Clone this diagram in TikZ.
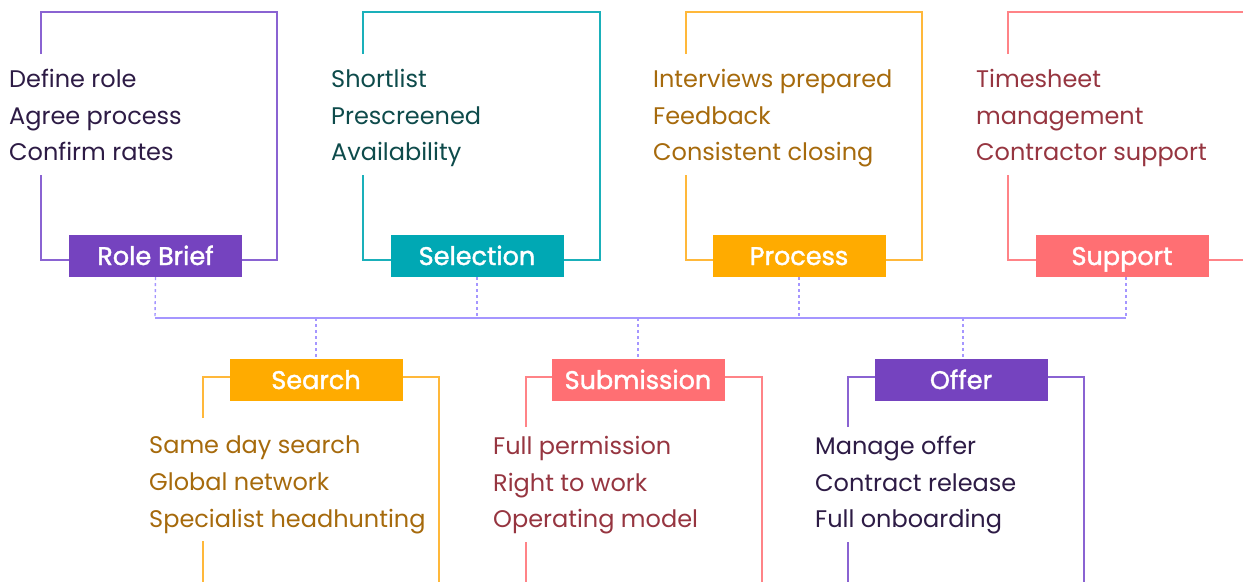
\documentclass[tikz,border=0pt]{standalone}
\usepackage{fontspec}
\setmainfont{Poppins}
\newfontfamily\badgefont[FakeBold=1.6]{Poppins}
\definecolor{pfill}{HTML}{7543BF}
\definecolor{pline}{HTML}{8A63D2}
\definecolor{ptext}{HTML}{2D1B45}
\definecolor{tfill}{HTML}{00A8B4}
\definecolor{tline}{HTML}{1AB0BA}
\definecolor{ttext}{HTML}{0E4B4B}
\definecolor{ofill}{HTML}{FFAB00}
\definecolor{oline}{HTML}{FFB83A}
\definecolor{otext}{HTML}{A66A0C}
\definecolor{cfill}{HTML}{FF6F73}
\definecolor{cline}{HTML}{FF8387}
\definecolor{ctext}{HTML}{963540}
\definecolor{bus}{HTML}{A596FF}
\tikzset{
  badge/.style={fill=#1, text=white, minimum width=173pt, minimum height=42pt, inner sep=0pt, text height=18pt, text depth=0pt, font=\badgefont\fontsize{25.5}{29}\selectfont},
  items/.style={text=#1, anchor=north west, align=left, inner sep=0pt, font=\fontsize{24}{36.7}\selectfont},
  frame/.style={draw=#1, line width=1.4pt},
  conn/.style={draw=bus, line width=1.4pt, dash pattern=on 3pt off 3pt},
  busline/.style={draw=bus, line width=1.4pt},
}
\begin{document}
\begin{tikzpicture}[x=1pt,y=-1pt]
\useasboundingbox (0,0) rectangle (1243,582);
% ---------- top row frames ----------
\draw[frame=pline] (41,54) -- (41,12) -- (277,12) -- (277,260) -- (242,260);
\draw[frame=pline] (41,175) -- (41,260) -- (69,260);
\draw[frame=tline] (363,54) -- (363,12) -- (600,12) -- (600,260) -- (563,260);
\draw[frame=tline] (363,175) -- (363,260) -- (391,260);
\draw[frame=oline] (686,54) -- (686,12) -- (922,12) -- (922,260) -- (885,260);
\draw[frame=oline] (686,175) -- (686,260) -- (713,260);
\draw[frame=cline] (1008,54) -- (1008,12) -- (1243,12);
\draw[frame=cline] (1243,260) -- (1208,260);
\draw[frame=cline] (1008,175) -- (1008,260) -- (1036,260);
% ---------- bottom row frames ----------
\draw[frame=oline] (203,418) -- (203,377) -- (230,377);
\draw[frame=oline] (402,377) -- (439,377) -- (439,582);
\draw[frame=oline] (203,541) -- (203,582);
\draw[frame=cline] (526,427) -- (526,377) -- (552,377);
\draw[frame=cline] (724,377) -- (762,377) -- (762,582);
\draw[frame=cline] (526,542) -- (526,582);
\draw[frame=pline] (848,427) -- (848,377) -- (875,377);
\draw[frame=pline] (1047,377) -- (1084,377) -- (1084,582);
\draw[frame=pline] (848,542) -- (848,582);
% ---------- badges ----------
\node[badge=pfill] (rb) at (155.5,256) {Role Brief};
\node[badge=tfill] (sel) at (477,256) {Selection};
\node[badge=ofill] (pro) at (799,256) {Process};
\node[badge=cfill] (sup) at (1122,256) {Support};
\node[badge=ofill] (sea) at (316,380) {Search};
\node[badge=cfill] (sub) at (638,380) {Submission};
\node[badge=pfill] (off) at (961,380) {Offer};
% ---------- item texts ----------
\node[items=ptext] (rbt) at (9,69) {Define role\\Agree process\\Confirm rates};
\node[items=ttext] (selt) at (331,69) {Shortlist\\Prescreened\\Availability};
\node[items=otext] (prot) at (653,69) {Interviews prepared\\Feedback\\Consistent closing};
\node[items=ctext] (supt) at (976,69) {Timesheet\\management\\Contractor support};
\node[items=otext] (seat) at (149,436) {Same day search\\Global network\\Specialist headhunting};
\node[items=ctext] (subt) at (493,436) {Full permission\\Right to work\\Operating model};
\node[items=ptext] (offt) at (815,436) {Manage offer\\Contract release\\Full onboarding};
% ---------- connectors ----------
\coordinate (b1) at (155,318);
\coordinate (b2) at (477,318);
\coordinate (b3) at (799,318);
\coordinate (b4) at (1126,318);
\coordinate (b5) at (316,318);
\coordinate (b6) at (638,318);
\coordinate (b7) at (963,318);
\draw[busline] (b1) -- (b4);
\draw[conn] (rb.south) -- (b1);
\draw[conn] (sel.south) -- (b2);
\draw[conn] (pro.south) -- (b3);
\draw[conn] (sup.south -| b4) -- (b4);
\draw[conn] (b5) -- (sea.north);
\draw[conn] (b6) -- (sub.north);
\draw[conn] (b7) -- (off.north -| b7);
\end{tikzpicture}
\end{document}
